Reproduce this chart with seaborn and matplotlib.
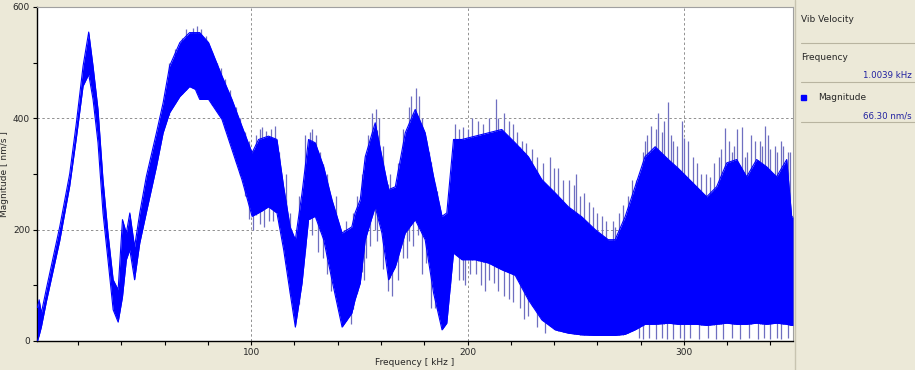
import numpy as np
import pandas as pd
import matplotlib
matplotlib.use("Agg")
import matplotlib.pyplot as plt
import seaborn as sns

# ---- data (envelope of the magnitude band) ----
freq = [1.2, 2.0, 3.0, 5.4, 11.5, 16.1, 19.2, 22.3, 24.9, 26.9, 29.2, 31.5, 33.8,
        36.2, 38.5, 40.5, 42.3, 43.9, 46.1, 48.5, 51.5, 56.2, 59.3, 62.3, 67.0,
        71.5, 74.2, 76.2, 80.3, 86.5, 91.1, 95.7, 100.4, 103.4, 108.0, 111.9,
        115.0, 118.0, 120.4, 123.5, 126.5, 129.6, 133.5, 137.3, 142.0, 146.5,
        148.0, 150.4, 152.7, 157.3, 160.4, 163.5, 166.6, 171.2, 175.8, 180.4,
        184.3, 188.2, 190.4, 193.5, 197.4, 203.5, 209.7, 215.8, 222.0, 228.1,
        234.3, 240.5, 246.6, 252.8, 259.0, 265.0, 268.2, 272.8, 277.4, 282.0,
        286.7, 292.8, 297.4, 305.9, 310.5, 315.1, 319.8, 324.4, 329.0, 333.6,
        338.2, 342.8, 347.5, 349.8, 350.4]
upper = [60, 74, 50, 95, 205, 300, 392, 494, 555, 494, 416, 290, 194,
         110, 92, 218, 194, 230, 169, 230, 295, 374, 428, 494, 536,
         554, 554, 554, 536, 476, 434, 386, 338, 362, 368, 362,
         277, 205, 182, 266, 362, 356, 313, 254, 194, 205,
         230, 254, 331, 392, 331, 272, 277, 374, 416, 374,
         295, 224, 230, 362, 362, 368, 374, 380, 356, 331,
         290, 266, 241, 223, 200, 182, 182, 223, 277, 331,
         349, 326, 310, 277, 259, 277, 320, 326, 295, 326,
         313, 295, 326, 223, 223]
lower = [0, 10, 25, 72, 180, 278, 365, 458, 479, 434, 356, 230, 146,
         56, 34, 79, 146, 164, 110, 176, 230, 313, 374, 410, 439,
         457, 452, 434, 434, 398, 344, 290, 224, 230, 241, 230,
         164, 86, 25, 104, 218, 224, 182, 110, 25, 50,
         74, 104, 182, 241, 194, 110, 133, 194, 218, 182,
         86, 20, 32, 158, 146, 146, 140, 128, 118, 74,
         38, 20, 14, 11, 10, 10, 10, 12, 20, 30,
         30, 32, 30, 30, 28, 30, 32, 30, 30, 32,
         30, 32, 30, 28, 28]

# light-coloured spikes poking out of the band (frequency, tip value)
up_spike_f = [62, 65, 68, 70, 73, 75, 77, 79, 82, 84, 86, 88, 90, 93, 95, 97, 99,
              102, 104, 105, 107, 109, 111, 113, 116, 118, 122, 125, 127, 128, 130,
              132, 135, 139, 144, 147, 149, 151, 154, 156, 157.7, 159, 161, 164,
              168, 170, 173, 174, 176.3, 177.5, 179, 182, 186, 192, 194, 196, 198,
              200, 202, 205, 207, 210, 213, 214, 217, 219, 221, 223, 225, 227, 230,
              232, 235, 238, 240, 242, 244, 247, 249, 250, 252, 254, 256, 258, 260,
              262, 264, 267, 268, 270, 272, 274, 276, 278, 281, 282, 283, 285, 287,
              288, 290, 291, 292.7, 294, 295, 297, 299, 300, 302, 304, 306, 308,
              310, 312, 314, 316, 317, 319, 321, 322, 323, 324.4, 326.6, 328, 329,
              331, 333, 335, 336, 337.5, 339, 340, 342, 343, 345, 346, 348, 349]
up_spike_v = [500, 525, 545, 560, 562, 565, 560, 548, 520, 500, 490, 470, 450, 420,
              400, 375, 360, 370, 380, 385, 378, 380, 386, 340, 300, 230, 260, 370,
              375, 380, 370, 340, 300, 260, 215, 230, 260, 300, 370, 410, 416, 400,
              350, 300, 320, 380, 420, 440, 455, 440, 400, 340, 270, 270, 390, 380,
              385, 380, 400, 395, 390, 400, 434, 400, 410, 395, 390, 375, 360, 355,
              345, 330, 320, 330, 310, 310, 290, 290, 280, 300, 260, 265, 250, 240,
              230, 225, 215, 215, 205, 230, 245, 260, 290, 290, 340, 360, 370, 386,
              380, 410, 375, 395, 430, 370, 360, 350, 395, 365, 360, 330, 320, 300,
              300, 295, 320, 330, 345, 383, 360, 340, 350, 380, 385, 330, 340, 370,
              360, 360, 350, 386, 370, 345, 350, 340, 360, 350, 340, 340]
lo_spike_f = [97, 99, 101, 104, 106, 108, 110, 113, 116, 128, 131, 133, 135, 137,
              146, 152, 153, 155, 157, 158, 161, 163, 165, 168, 170, 172, 173, 175,
              177, 179, 181, 183, 185, 196, 198, 199, 201, 204, 206, 208, 210, 212,
              214, 217, 219, 221, 224, 226, 228, 232, 236, 279, 281, 284, 287, 290,
              292, 295, 298, 300, 303, 307, 311, 315, 318, 322, 326, 330, 334, 337,
              340, 343, 345, 348]
lo_spike_v = [260, 220, 200, 210, 205, 215, 215, 230, 140, 190, 160, 150, 120, 90,
              30, 110, 150, 170, 200, 180, 130, 90, 80, 110, 150, 150, 180, 170,
              190, 120, 140, 60, 60, 110, 110, 100, 120, 120, 100, 90, 110, 105,
              90, 80, 75, 70, 60, 40, 45, 25, 15, 5, 4, 6, 3, 5,
              4, 3, 6, 4, 5, 3, 6, 4, 3, 5, 4, 6, 3, 5,
              4, 6, 3, 5]

x_ticks = [100, 200, 300]
y_ticks = [0, 200, 400, 600]

BG = "#ECE9D8"
BLUE = "#0000FF"
SPIKE = "#6F6FC0"

sns.set_style("white")
plt.rcParams["font.family"] = ["DejaVu Sans"]

fig = plt.figure(figsize=(9.15, 3.70), dpi=100, facecolor=BG)
ax = fig.add_axes([37 / 915, 29 / 370, (793 - 37) / 915, (341 - 7) / 370])
ax.set_facecolor("white")

df = pd.DataFrame({"freq": freq, "upper": upper, "lower": lower})

# spikes (drawn beneath the solid band so only the tips show)
ax.vlines(up_spike_f, np.interp(up_spike_f, freq, lower), up_spike_v,
          color=SPIKE, lw=0.9, zorder=2)
ax.vlines(lo_spike_f, lo_spike_v, np.interp(lo_spike_f, freq, upper),
          color=SPIKE, lw=0.9, zorder=2)

ax.fill_between(df["freq"], df["lower"], df["upper"], color=BLUE, lw=0, zorder=3)
sns.lineplot(data=df, x="freq", y="upper", ax=ax, color=BLUE, lw=0.8, zorder=4)
sns.lineplot(data=df, x="freq", y="lower", ax=ax, color=BLUE, lw=0.8, zorder=4)

ax.set_xlim(1.0, 350.4)
ax.set_ylim(0, 600)
ax.set_xticks(x_ticks)
ax.set_yticks(y_ticks)
ax.set_xticks(np.arange(20, 350, 20), minor=True)
ax.set_yticks(np.arange(100, 600, 200), minor=True)
ax.tick_params(axis="both", which="both", direction="out", length=3, width=0.8,
               color="black", labelsize=6.5, pad=2, bottom=True, left=True)

ax.grid(False)
for v in [100, 200, 300]:
    ax.axvline(v, color="#909090", lw=0.7, ls=(0, (2.5, 2.5)), zorder=1)
for v in [200, 400]:
    ax.axhline(v, color="#909090", lw=0.7, ls=(0, (2.5, 2.5)), zorder=1)

for side in ["left", "bottom"]:
    ax.spines[side].set_color("black")
    ax.spines[side].set_linewidth(1.0)
for side in ["top", "right"]:
    ax.spines[side].set_color("#A0A0A0")
    ax.spines[side].set_linewidth(0.8)

ax.set_xlabel("Frequency [ kHz ]", fontsize=6.5, labelpad=1)
ax.set_ylabel("Magnitude [ nm/s ]", fontsize=6.5, labelpad=3)

# right-hand info panel
fig.add_artist(plt.Line2D([795 / 915, 795 / 915], [0, 1], color="#C8C4B0", lw=1.0))
for yy in [43, 82, 122]:
    fig.add_artist(plt.Line2D([801 / 915, 1.0], [1 - yy / 370, 1 - yy / 370],
                              color="#B8B4A0", lw=0.8))
fig.text(801 / 915, 1 - 19 / 370, "Vib Velocity", fontsize=6.5, va="center", ha="left")
fig.text(801 / 915, 1 - 58 / 370, "Frequency", fontsize=6.5, va="center", ha="left")
fig.text(912 / 915, 1 - 75 / 370, "1.0039 kHz", fontsize=6.2, va="center", ha="right",
         color="#2020A0")
fig.add_artist(plt.Rectangle((801 / 915, 1 - 100 / 370), 5 / 915, 5 / 370,
                             color=BLUE, transform=fig.transFigure))
fig.text(818 / 915, 1 - 97 / 370, "Magnitude", fontsize=6.5, va="center", ha="left")
fig.text(912 / 915, 1 - 116 / 370, "66.30 nm/s", fontsize=6.2, va="center", ha="right",
         color="#2020A0")

fig.savefig("out.png", dpi=100, facecolor=BG)
